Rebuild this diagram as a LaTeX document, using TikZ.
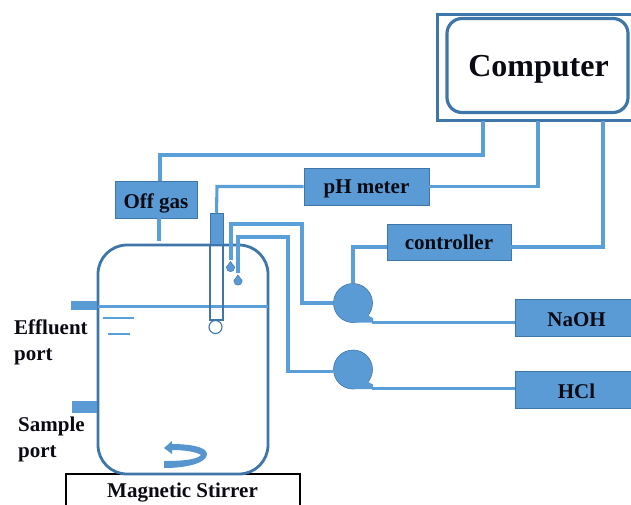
\documentclass[tikz,border=0pt]{standalone}
\usepackage{fontspec}
\setmainfont{Liberation Serif}
\usetikzlibrary{calc}
\definecolor{bluefill}{HTML}{5B9BD5}
\definecolor{bluedark}{HTML}{3F76AA}
\definecolor{bluepipe}{HTML}{5A9FD8}
\definecolor{txt}{HTML}{0A0A12}
\tikzset{
  x=1pt,y=-1pt,
  bluebox/.style={draw=bluedark,line width=0.8pt,fill=bluefill,inner sep=0pt,text=txt,font=\fontsize{21}{24}\selectfont\bfseries},
  tshift/.style={text height=#1,text depth=0pt},
  pipe/.style={draw=bluepipe,line width=3.1pt,line join=miter},
  vessel/.style={draw=bluedark,line width=2.8pt},
  lbl/.style={inner sep=0pt,text=txt,font=\fontsize{21}{26}\selectfont\bfseries,align=left,anchor=north west},
  pumpbody/.style={circle,fill=bluefill,draw=bluedark,line width=0.6pt,minimum size=39pt,inner sep=0pt},
  portbox/.style={fill=bluefill,draw=none,inner sep=0pt},
  drop/.style={fill=bluefill,draw=bluedark,line width=0.5pt}
}
\begin{document}
\begin{tikzpicture}
\useasboundingbox (0,0) rectangle (631,504);
% computer
\node[draw=bluedark,line width=3pt,minimum width=214pt,minimum height=106pt,inner sep=0pt] (compout) at (544,67) {};
\node[draw=bluedark,line width=3.2pt,rounded corners=15pt,minimum width=181pt,minimum height=94pt,inner sep=0pt,text=txt,font=\fontsize{32}{36}\selectfont\bfseries,tshift=22pt] (comp) at (537.5,65.5) {\hspace*{2pt}Computer};
\coordinate (c1) at (483,121);
\coordinate (c2) at (538,121);
\coordinate (c3) at (603,121);
% boxes
\node[bluebox,minimum width=82pt,minimum height=37pt,tshift=17.4pt] (offgas) at (156,199.5) {Off gas};
\node[bluebox,minimum width=125pt,minimum height=37pt,tshift=13.4pt] (ph) at (366.5,186.5) {pH meter};
\node[bluebox,minimum width=124pt,minimum height=36pt] (ctrl) at (449,242) {controller};
\node[bluebox,minimum width=117pt,minimum height=37pt,tshift=18pt] (naoh) at (573.5,317.5) {\hspace*{6pt}NaOH};
\node[bluebox,minimum width=117pt,minimum height=37pt,tshift=18pt] (hcl) at (573.5,389.5) {\hspace*{6pt}HCl};
% stirrer
\node[draw=black,line width=1.2pt,fill=white,minimum width=234pt,minimum height=40pt,inner sep=0pt] (stir) at (183,494) {};
\node[inner sep=0pt,text=txt,font=\fontsize{21}{24}\selectfont\bfseries] (stirtxt) at (182.5,492.5) {Magnetic Stirrer};
% vessel
\draw[vessel,rounded corners=29pt] (98,245) rectangle (268,474);
\draw[draw=bluepipe,line width=2.6pt] (98,306.5) -- (268,306.5);
\draw[draw=bluepipe,line width=2.6pt] (103,318) -- (134,318);
\draw[draw=bluepipe,line width=2.6pt] (108,334) -- (130,334);
\node[portbox,minimum width=26pt,minimum height=9pt] (eff) at (84,305) {};
\node[portbox,minimum width=25pt,minimum height=12pt] (samp) at (84.5,407) {};
% probe
\node[portbox,draw=bluedark,line width=0.5pt,minimum width=13pt,minimum height=32pt] (probe) at (216.5,229) {};
\node[draw=bluedark,line width=1.2pt,minimum width=13pt,minimum height=75pt,inner sep=0pt] (tube) at (216.5,282.5) {};
\node[circle,draw=bluedark,line width=1.1pt,minimum size=13pt,inner sep=0pt] (bulb) at (215.5,327) {};
% connectors
\coordinate (og) at (160,181);
\coordinate (ogb) at (159,218);
\coordinate (ogv) at (159,241);
\coordinate (p1out) at (372,322.3);
\coordinate (p2out) at (372,388.3);
\coordinate (d1) at (231,260);
\coordinate (d2) at (238,273);
\node[pumpbody] (p1) at (353,303) {};
\node[pumpbody] (p2) at (353,369.5) {};
\draw[pipe] (c1) -- (483,155) -- (160,155) -- (og);
\draw[pipe] (ogb) -- (ogv);
\draw[pipe] (ph.east) -- (538,186.5) -- (c2);
\draw[pipe] (ph.west) -- (217,186.5) -- (probe.north);
\draw[pipe] ($(ctrl.east)+(0,5)$) -- (603,247) -- (c3);
\draw[pipe] ($(ctrl.west)+(0,5)$) -- (353,247) -- (p1.north);
\draw[pipe] (p1.west) -- (302,303) -- (302,224) -- (231,224) -- (d1);
\draw[pipe] ($(p2.west)+(0,2)$) -- (288,371.5) -- (288,237) -- (238,237) -- (d2);
\draw[pipe] (p1out) -- (naoh.west |- p1out);
\draw[pipe] (p2out) -- (hcl.west |- p2out);
% pumps tails
\fill[bluefill] (353,322.5) -- (373,322.5) -- (373,318) -- (369,316) -- (365,303) -- cycle;
\fill[bluefill] (353,389) -- (373,389) -- (373,384.5) -- (369,382.5) -- (365,369) -- cycle;
% drops
\fill[drop] (230.5,261.5) -- (234.6,267) -- (234.6,267.5) .. controls (234.6,273) and (226.4,273) .. (226.4,267.5) -- (226.4,267) -- cycle;
\fill[drop] (238,275) -- (242.1,280.5) -- (242.1,281) .. controls (242.1,286.5) and (233.9,286.5) .. (233.9,281) -- (233.9,280.5) -- cycle;
% stirring arrow
\fill[bluefill!85!bluedark] (172,444) .. controls (190,444) and (207,447) .. (207,454) .. controls (207,462) and (190,468) .. (164,468) -- (164,461) .. controls (180,461) and (197,460) .. (201,455) .. controls (197,452) and (185,450) .. (172,450) -- (172,454) -- (164,448) -- (172,441) -- cycle;
% labels
\node[lbl] (lblE) at (14,320) {Effluent\\port};
\node[lbl] (lblS) at (18,417) {Sample\\port};
\end{tikzpicture}
\end{document}
